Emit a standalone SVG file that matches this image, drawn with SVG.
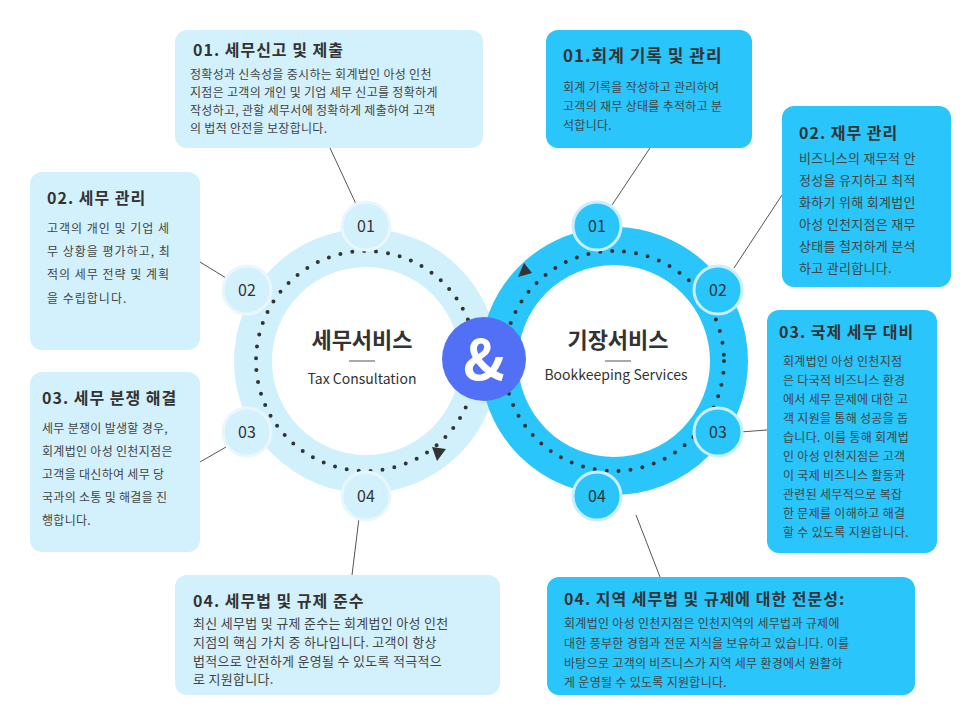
<svg xmlns="http://www.w3.org/2000/svg" width="966" height="725" viewBox="0 0 966 725">
<style>
text{font-family:"Noto Sans CJK KR","Noto Sans",sans-serif;}
.t{font-size:16px;font-weight:bold;fill:#333;letter-spacing:1px}
.b{font-size:12px;fill:#444;letter-spacing:0.3px}
.lb{fill:#d3f1fc}
.db{fill:#29c5fb}
.ln{stroke:#555;stroke-width:1;fill:none}
.nl{fill:#d3f1fc;stroke:#e9f7fc;stroke-width:3}
.nd{fill:#29c5fb;stroke:#c9eefc;stroke-width:3}
.nt{font-size:16px;fill:#333;text-anchor:middle}
.dot{fill:none;stroke:#333;stroke-width:4;stroke-linecap:round;stroke-dasharray:0 12}
</style>
<rect width="966" height="725" fill="#fff"/>
<g id="connectors">
<line class="ln" x1="330" y1="148" x2="356" y2="204"/>
<line class="ln" x1="200" y1="262" x2="226" y2="278"/>
<line class="ln" x1="200" y1="462" x2="226" y2="447"/>
<line class="ln" x1="352" y1="575" x2="359" y2="518"/>
<line class="ln" x1="650" y1="148" x2="612" y2="205"/>
<line class="ln" x1="782" y1="195" x2="734" y2="268"/>
<line class="ln" x1="767" y1="430" x2="740" y2="432"/>
<line class="ln" x1="660" y1="577" x2="636" y2="515"/>
</g>
<g id="ring-left">
<circle cx="366" cy="361" r="113" fill="none" stroke="#d0f0fc" stroke-width="38"/>
<circle class="dot" cx="366" cy="361" r="110"/>
<polygon points="432,447 446,449 437,461" fill="#333"/>
<text x="362" y="348" font-size="22" font-weight="bold" fill="#333" text-anchor="middle">세무서비스</text>
<line x1="349" y1="361" x2="375" y2="361" stroke="#555"/>
<text x="362" y="384" font-size="14" fill="#333" text-anchor="middle">Tax Consultation</text>
</g>
<g id="ring-right">
<circle cx="614" cy="361" r="115" fill="none" stroke="#29c5fb" stroke-width="38"/>
<circle class="dot" cx="614" cy="361" r="110"/>
<polygon points="518,277 532,273 524,263" fill="#333"/>
<text x="618" y="348" font-size="22" font-weight="bold" fill="#333" text-anchor="middle">기장서비스</text>
<line x1="605" y1="361" x2="631" y2="361" stroke="#555"/>
<text x="616" y="380" font-size="14" fill="#333" text-anchor="middle">Bookkeeping Services</text>
</g>
<g id="amp">
<circle cx="484" cy="359" r="42" fill="#5170f5"/>
<text x="484" y="380" font-size="56" font-weight="bold" fill="#fff" text-anchor="middle">&amp;</text>
</g>
<g id="nodes-left">
<circle class="nl" cx="366" cy="226" r="24"/><text class="nt" x="366" y="232">01</text>
<circle class="nl" cx="247" cy="290" r="24"/><text class="nt" x="247" y="296">02</text>
<circle class="nl" cx="247" cy="432" r="24"/><text class="nt" x="247" y="438">03</text>
<circle class="nl" cx="366" cy="496" r="24"/><text class="nt" x="366" y="502">04</text>
</g>
<g id="nodes-right">
<circle class="nd" cx="597" cy="226" r="24"/><text class="nt" x="597" y="232">01</text>
<circle class="nd" cx="718" cy="290" r="24"/><text class="nt" x="718" y="296">02</text>
<circle class="nd" cx="718" cy="432" r="24"/><text class="nt" x="718" y="438">03</text>
<circle class="nd" cx="597" cy="496" r="24"/><text class="nt" x="597" y="502">04</text>
</g>
<g id="box-l1">
<rect class="lb" x="175" y="30" width="308" height="118" rx="12"/>
<text class="t" x="193" y="56">01. 세무신고 및 제출</text>
<text class="b" x="190" y="79">정확성과 신속성을 중시하는 회계법인 아성 인천</text>
<text class="b" x="190" y="97">지점은 고객의 개인 및 기업 세무 신고를 정확하게</text>
<text class="b" x="190" y="115">작성하고, 관할 세무서에 정확하게 제출하여 고객</text>
<text class="b" x="190" y="133">의 법적 안전을 보장합니다.</text>
</g>
<g id="box-l2">
<rect class="lb" x="30" y="172" width="170" height="178" rx="12"/>
<text class="t" x="47" y="204">02. 세무 관리</text>
<text class="b" x="47" y="233" style="letter-spacing:1px">고객의 개인 및 기업 세</text>
<text class="b" x="47" y="256" style="letter-spacing:1px">무 상황을 평가하고, 최</text>
<text class="b" x="47" y="279" style="letter-spacing:1px">적의 세무 전략 및 계획</text>
<text class="b" x="47" y="303" style="letter-spacing:1px">을 수립합니다.</text>
</g>
<g id="box-l3">
<rect class="lb" x="30" y="372" width="170" height="180" rx="12"/>
<text class="t" x="42" y="404">03. 세무 분쟁 해결</text>
<text class="b" x="42" y="433">세무 분쟁이 발생할 경우,</text>
<text class="b" x="42" y="456">회계법인 아성 인천지점은</text>
<text class="b" x="42" y="479">고객을 대신하여 세무 당</text>
<text class="b" x="42" y="502">국과의 소통 및 해결을 진</text>
<text class="b" x="42" y="525">행합니다.</text>
</g>
<g id="box-l4">
<rect class="lb" x="175" y="575" width="325" height="120" rx="12"/>
<text class="t" x="193" y="607">04. 세무법 및 규제 준수</text>
<text class="b" x="193" y="628" style="font-size:13px">최신 세무법 및 규제 준수는 회계법인 아성 인천</text>
<text class="b" x="193" y="647" style="font-size:13px">지점의 핵심 가치 중 하나입니다. 고객이 항상</text>
<text class="b" x="193" y="666" style="font-size:13px">법적으로 안전하게 운영될 수 있도록 적극적으</text>
<text class="b" x="193" y="684" style="font-size:13px">로 지원합니다.</text>
</g>
<g id="box-r1">
<rect class="db" x="546" y="30" width="206" height="118" rx="12"/>
<text class="t" x="563" y="62" style="font-size:17px">01.회계 기록 및 관리</text>
<text class="b" x="563" y="92">회계 기록을 작성하고 관리하여</text>
<text class="b" x="563" y="111">고객의 재무 상태를 추적하고 분</text>
<text class="b" x="563" y="130">석합니다.</text>
</g>
<g id="box-r2">
<rect class="db" x="782" y="106" width="169" height="181" rx="12"/>
<text class="t" x="799" y="139">02. 재무 관리</text>
<text class="b" x="799" y="163" style="font-size:13px">비즈니스의 재무적 안</text>
<text class="b" x="799" y="185" style="font-size:13px">정성을 유지하고 최적</text>
<text class="b" x="799" y="207" style="font-size:13px">화하기 위해 회계법인</text>
<text class="b" x="799" y="229" style="font-size:13px">아성 인천지점은 재무</text>
<text class="b" x="799" y="251" style="font-size:13px">상태를 철저하게 분석</text>
<text class="b" x="799" y="273" style="font-size:13px">하고 관리합니다.</text>
</g>
<g id="box-r3">
<rect class="db" x="767" y="310" width="170" height="243" rx="12"/>
<text class="t" x="779" y="338">03. 국제 세무 대비</text>
<text class="b" x="783" y="366">회계법인 아성 인천지점</text>
<text class="b" x="783" y="385">은 다국적 비즈니스 환경</text>
<text class="b" x="783" y="404">에서 세무 문제에 대한 고</text>
<text class="b" x="783" y="423">객 지원을 통해 성공을 돕</text>
<text class="b" x="783" y="442">습니다. 이를 통해 회계법</text>
<text class="b" x="783" y="461">인 아성 인천지점은 고객</text>
<text class="b" x="783" y="480">이 국제 비즈니스 활동과</text>
<text class="b" x="783" y="499">관련된 세무적으로 복잡</text>
<text class="b" x="783" y="518">한 문제를 이해하고 해결</text>
<text class="b" x="783" y="537">할 수 있도록 지원합니다.</text>
</g>
<g id="box-r4">
<rect class="db" x="547" y="577" width="368" height="118" rx="12"/>
<text class="t" x="564" y="605">04. 지역 세무법 및 규제에 대한 전문성:</text>
<text class="b" x="564" y="628">회계법인 아성 인천지점은 인천지역의 세무법과 규제에</text>
<text class="b" x="564" y="648">대한 풍부한 경험과 전문 지식을 보유하고 있습니다. 이를</text>
<text class="b" x="564" y="668">바탕으로 고객의 비즈니스가 지역 세무 환경에서 원활하</text>
<text class="b" x="564" y="687">게 운영될 수 있도록 지원합니다.</text>
</g>
</svg>
